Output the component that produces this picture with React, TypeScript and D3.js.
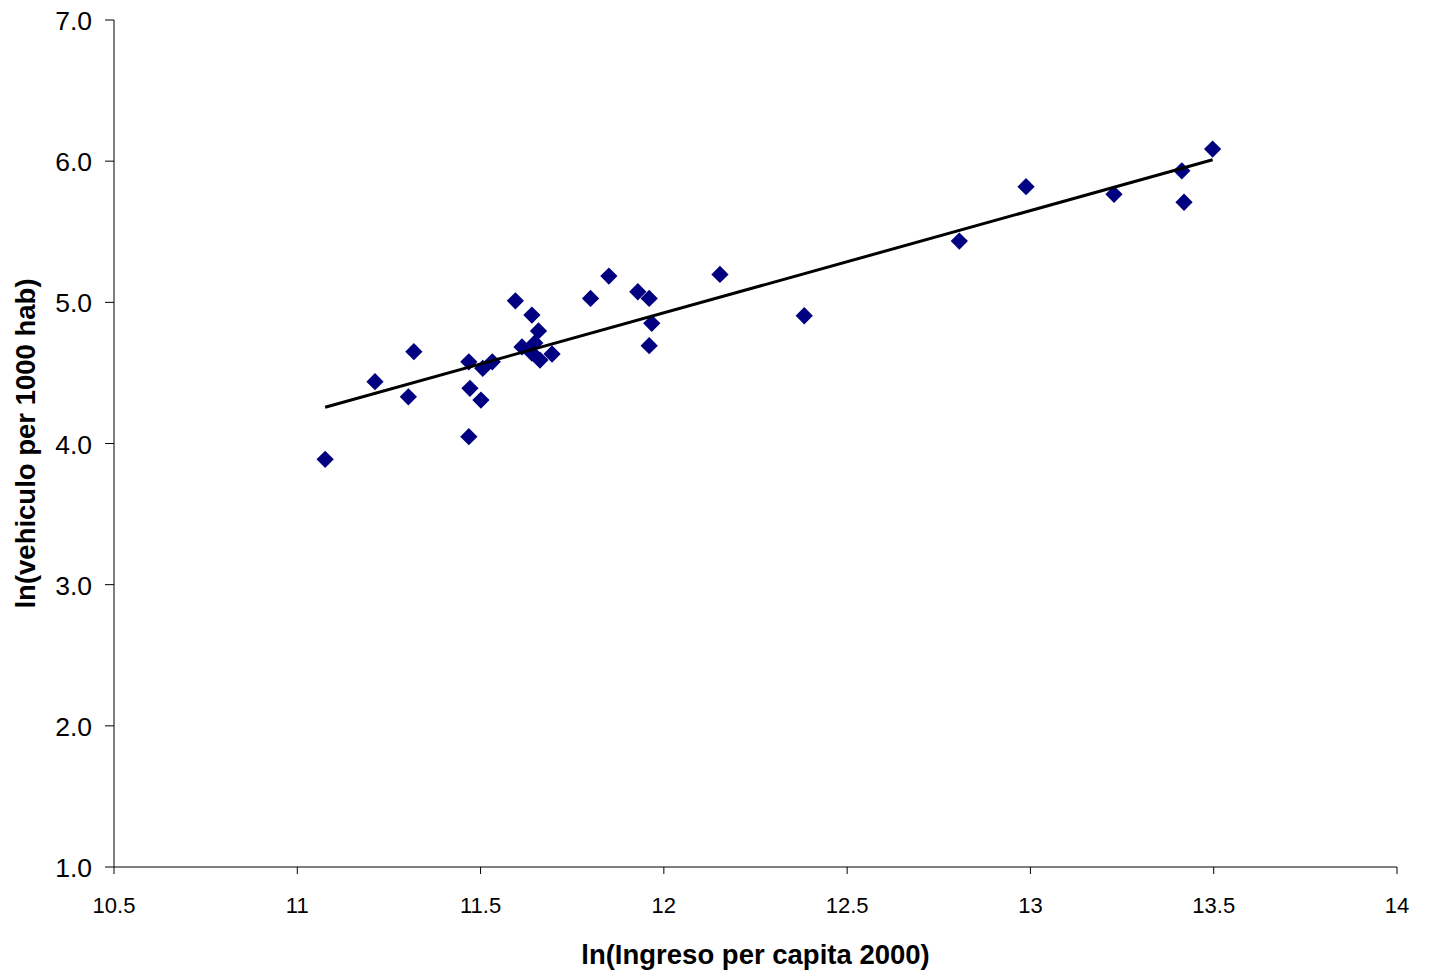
import React from "react";
import * as d3 from "d3";

// ln(per-capita income, 2000) and ln(vehicles per 1000 inhabitants)
const lnIncome: number[] = [
  11.076, 11.212, 11.303, 11.318, 11.468, 11.468, 11.471, 11.501, 11.506, 11.532,
  11.595, 11.640, 11.658, 11.613, 11.648, 11.640, 11.662, 11.695, 11.800, 11.850,
  11.929, 11.960, 11.967, 11.960, 12.153, 12.383, 12.806, 12.988, 13.228, 13.413,
  13.419, 13.497,
];
const lnVehicles: number[] = [
  3.888, 4.438, 4.331, 4.650, 4.048, 4.579, 4.391, 4.308, 4.533, 4.579,
  5.011, 4.910, 4.797, 4.684, 4.712, 4.641, 4.591, 4.634, 5.028, 5.186,
  5.075, 5.028, 4.851, 4.693, 5.198, 4.905, 5.434, 5.819, 5.765, 5.932,
  5.709, 6.086,
];

const xTicks: number[] = [10.5, 11, 11.5, 12, 12.5, 13, 13.5, 14];
const yTicks: number[] = [1, 2, 3, 4, 5, 6, 7];

const xTitle = "ln(Ingreso per capita 2000)";
const yTitle = "ln(vehiculo per 1000 hab)";

const W = 1429;
const H = 977;
const FONT = "'Liberation Sans', Arial, Helvetica, sans-serif";

export default function App() {
  const x = d3.scaleLinear().domain([10.5, 14]).range([114, 1397]);
  const y = d3.scaleLinear().domain([1, 7]).range([867, 20]);

  // ordinary least-squares trend line across the observed income range
  const n = lnIncome.length;
  const mx = d3.mean(lnIncome) as number;
  const my = d3.mean(lnVehicles) as number;
  let sxy = 0;
  let sxx = 0;
  for (let i = 0; i < n; i++) {
    sxy += (lnIncome[i] - mx) * (lnVehicles[i] - my);
    sxx += (lnIncome[i] - mx) ** 2;
  }
  const slope = sxy / sxx;
  const intercept = my - slope * mx;
  const [x0, x1] = d3.extent(lnIncome) as [number, number];
  const trend = d3.line<number>()
    .x((v) => x(v))
    .y((v) => y(intercept + slope * v))([x0, x1]) as string;

  const diamond = d3.symbol().type(d3.symbolDiamond2).size(190)() as string;

  const fmtY = d3.format(".1f");

  return (
    <svg
      width={W}
      height={H}
      style={{ position: "absolute", left: 0, top: 0, background: "#fff" }}
      fontFamily={FONT}
    >
      {/* axes */}
      <line x1={x(10.5)} x2={x(14)} y1={y(1)} y2={y(1)} stroke="#000" strokeWidth={1} />
      <line x1={x(10.5)} x2={x(10.5)} y1={y(1)} y2={y(7)} stroke="#000" strokeWidth={1} />

      {yTicks.map((t) => (
        <g key={"y" + t}>
          <line x1={x(10.5) - 9} x2={x(10.5)} y1={y(t)} y2={y(t)} stroke="#000" strokeWidth={1} />
          <text x={92} y={y(t) + 10} textAnchor="end" fontSize={26.5} fill="#000">
            {fmtY(t)}
          </text>
        </g>
      ))}

      {xTicks.map((t) => (
        <g key={"x" + t}>
          <line x1={x(t)} x2={x(t)} y1={y(1)} y2={y(1) + 7} stroke="#000" strokeWidth={1} />
          <text x={x(t)} y={913} textAnchor="middle" fontSize={22} fill="#000">
            {String(t)}
          </text>
        </g>
      ))}

      {/* points */}
      {lnIncome.map((v, i) => (
        <path
          key={"p" + i}
          d={diamond}
          transform={`translate(${x(v)},${y(lnVehicles[i])})`}
          fill="#000080"
        />
      ))}

      {/* trend */}
      <path d={trend} fill="none" stroke="#000" strokeWidth={3} />

      {/* titles */}
      <text x={x(12.25)} y={964} textAnchor="middle" fontSize={27.5} fontWeight="bold" fill="#000">
        {xTitle}
      </text>
      <text
        transform={`translate(35,${y(4)}) rotate(-90)`}
        textAnchor="middle"
        fontSize={27.5}
        fontWeight="bold"
        fill="#000"
      >
        {yTitle}
      </text>
    </svg>
  );
}
